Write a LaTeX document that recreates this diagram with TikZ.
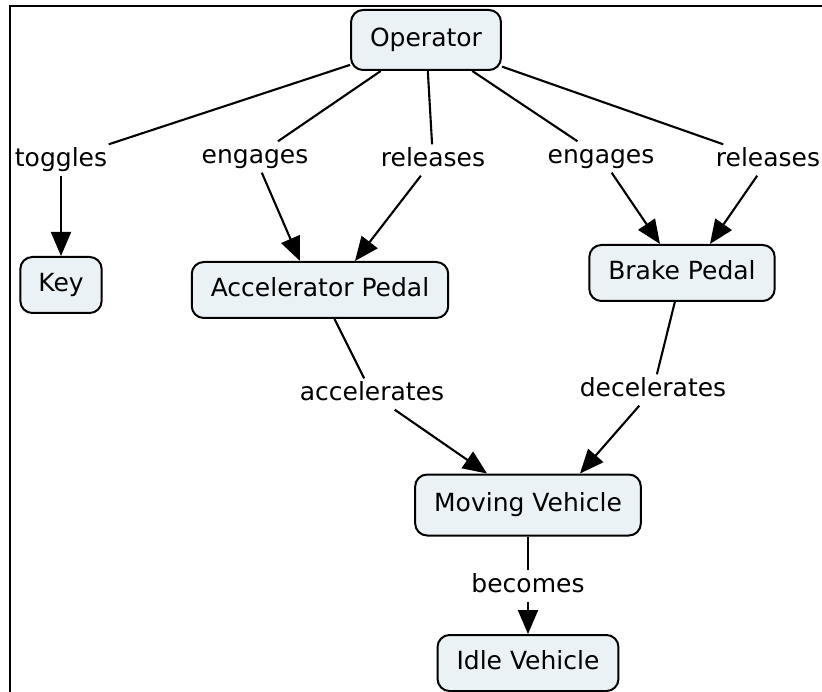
\documentclass[tikz,border=0pt]{standalone}
\usepackage{fontspec}
\setmainfont{DejaVu Sans}
\usetikzlibrary{arrows.meta}
\definecolor{conceptfill}{RGB}{235,242,245}
\tikzset{
  concept/.style={draw, line width=2pt, rounded corners=12pt, fill=conceptfill,
    inner xsep=19pt, minimum height=56pt, text height=19pt, text depth=6pt,
    font=\fontsize{25}{30}\selectfont},
  linklabel/.style={inner sep=3pt, text height=19pt, text depth=6pt,
    font=\fontsize{25}{30}\selectfont},
  conn/.style={line width=2.1pt},
  arr/.style={conn, -{Triangle[length=24pt,width=20pt]}}
}
\begin{document}
\begin{tikzpicture}[x=1pt,y=-1pt]
  \useasboundingbox (0,0) rectangle (822,692);
  % frame
  \draw[line width=2.7pt] (10,692) -- (10,6) -- (822,6);
  % concepts
  \node[concept, minimum height=60pt] (op) at (426,40) {Operator};
  \node[concept, inner xsep=18pt] (key) at (61,285) {Key};
  \node[concept] (acc) at (320,290) {Accelerator Pedal};
  \node[concept] (brake) at (682,273) {Brake Pedal};
  \node[concept, minimum height=61pt] (mv) at (528,505) {Moving Vehicle};
  \node[concept] (idle) at (528,663) {Idle Vehicle};
  % link labels
  \node[linklabel] (toggles) at (61,160) {toggles};
  \node[linklabel] (engA) at (255,157) {engages};
  \node[linklabel] (relA) at (433,160) {releases};
  \node[linklabel] (engB) at (601,157) {engages};
  \node[linklabel] (relB) at (768,160) {releases};
  \node[linklabel] (accel) at (372,394) {accelerates};
  \node[linklabel] (decel) at (653,390) {decelerates};
  \node[linklabel] (becomes) at (528,586) {becomes};
  % connectors
  \foreach \l in {toggles,engA,relA,engB,relB} {
    \draw[conn] (op) -- (\l);
  }
  \draw[arr] (toggles) -- (key);
  \draw[arr] (engA) -- ([xshift=-20pt]acc.north);
  \draw[arr] (relA) -- ([xshift=35pt]acc.north);
  \draw[arr] (engB) -- ([xshift=-22pt]brake.north);
  \draw[arr] (relB) -- ([xshift=28pt]brake.north);
  \draw[conn] (acc) -- (accel);
  \draw[arr] (accel) -- ([xshift=-41pt]mv.north);
  \draw[conn] (brake) -- (decel);
  \draw[arr] (decel) -- ([xshift=52pt]mv.north);
  \draw[conn] (mv) -- (becomes);
  \draw[arr] (becomes) -- (idle);
\end{tikzpicture}
\end{document}
